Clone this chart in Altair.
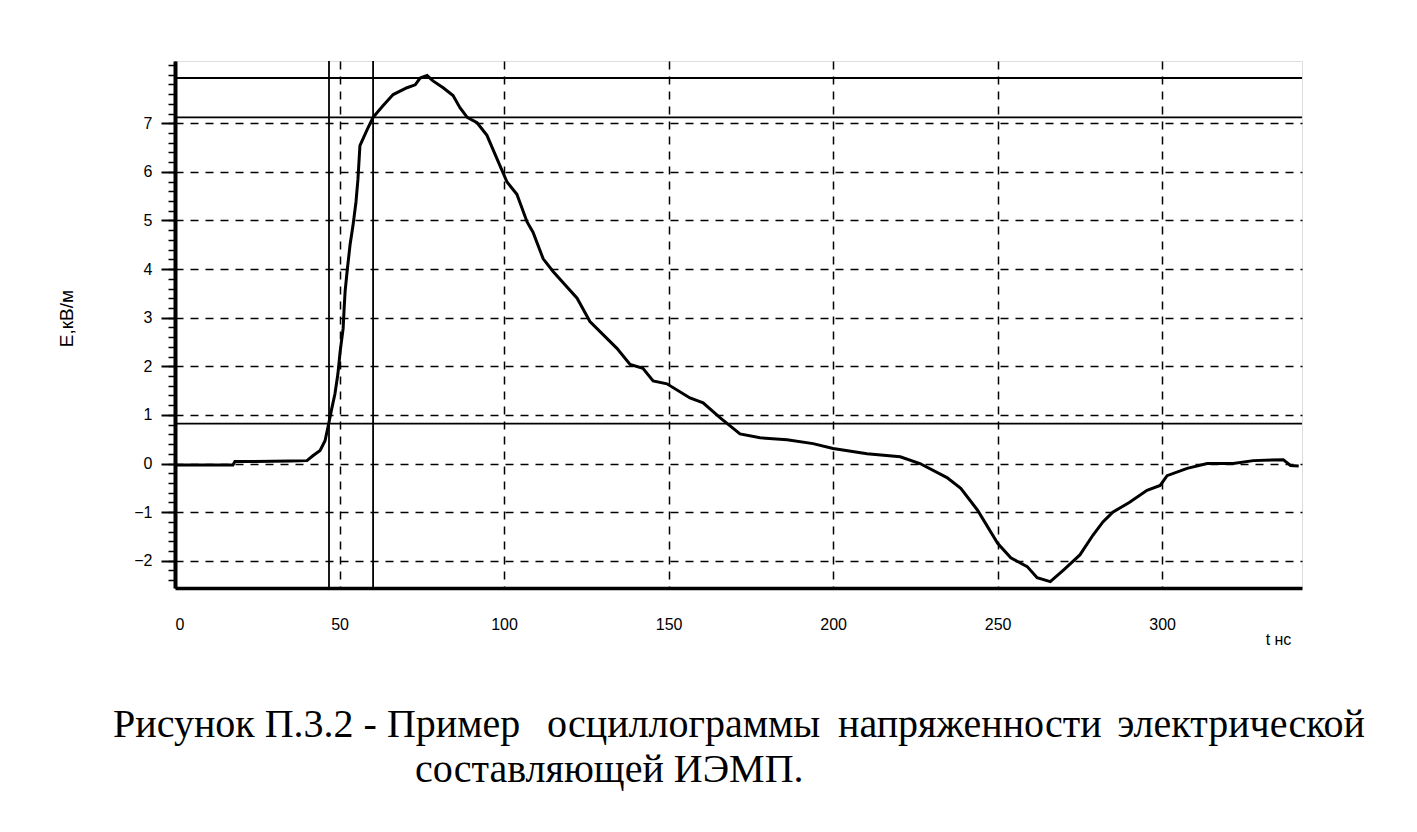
import altair as alt
import pandas as pd

# ---- data ----
t_ns = [0, 17.6, 18.2, 35, 40.1, 41.9, 44.1, 45.6, 46.8, 47.7,
        48.6, 49.5, 50.2, 51.1, 51.4, 51.7, 52.3, 53.2, 54.1, 55.0,
        55.6, 56.2, 58.4, 60.2, 63.2, 66.3, 70.5, 73.0, 74.5, 76.6,
        78.4, 81.5, 84.5, 86.6, 88.8, 91.8, 94.8, 97.9, 100.9, 103.9,
        107.0, 108.8, 111.9, 114.9, 122.2, 126.1, 134.3, 138.3, 142.2, 145.3,
        149.5, 156.5, 160.5, 165.7, 171.7, 177.8, 186.0, 193.9, 200.0, 210.3,
        220.4, 226.4, 234.6, 238.8, 243.9, 250.0, 254.0, 259.0, 262.0, 266.0,
        270.0, 275.0, 279.0, 282.0, 285.0, 290.0, 295.4, 299.4, 301.5, 307.6,
        313.7, 321.6, 327.7, 336.8, 339.0, 341.5]
e_kvm = [-0.03, -0.03, 0.04, 0.05, 0.06, 0.16, 0.27, 0.47, 0.85, 1.15,
         1.43, 1.84, 2.31, 2.78, 3.19, 3.54, 3.95, 4.5, 4.9, 5.38,
         5.85, 6.54, 6.87, 7.12, 7.36, 7.59, 7.73, 7.79, 7.93, 7.98,
         7.87, 7.73, 7.57, 7.32, 7.12, 7.01, 6.75, 6.26, 5.79, 5.54,
         4.97, 4.76, 4.21, 3.95, 3.4, 2.92, 2.37, 2.04, 1.96, 1.7,
         1.64, 1.35, 1.25, 0.94, 0.61, 0.53, 0.49, 0.41, 0.31, 0.2,
         0.14, 0.0, -0.29, -0.51, -0.96, -1.64, -1.94, -2.12, -2.35, -2.43,
         -2.19, -1.88, -1.47, -1.2, -1.0, -0.8, -0.55, -0.45, -0.25, -0.1,
         0.0, 0.0, 0.06, 0.08, -0.04, -0.05]

cursor_t = [46.8, 60.2]          # vertical cursor lines, ns
cursor_e = [7.93, 7.12, 0.82]    # horizontal cursor lines, kV/m

x_ticks = [0, 50, 100, 150, 200, 250, 300]
y_ticks = [-2, -1, 0, 1, 2, 3, 4, 5, 6, 7]
y_minor = [round(-2.4 + 0.2 * i, 1) for i in range(54)]

x_title = "t нс"
y_title = "E,кВ/м"
caption_line1 = ["Рисунок П.3.2 - Пример", "осциллограммы", "напряженности", "электрической"]
caption_line2 = "составляющей ИЭМП."

# ---- chart ----
W, H = 1127, 527
xs = alt.Scale(domain=[0, 342.5], nice=False, zero=False)
ys = alt.Scale(domain=[-2.56, 8.28], nice=False, zero=False)
sans = "Liberation Sans"
serif = "Liberation Serif"

curve_df = pd.DataFrame({"t": t_ns, "e": e_kvm})

x_axis = alt.Axis(
    orient="bottom", values=x_ticks, ticks=False, tickSize=0, labelPadding=28,
    labelFont=sans, labelFontSize=16, labelColor="black",
    domainColor="black", domainWidth=3.5,
    grid=True, gridColor="black", gridDash=[8, 7], gridWidth=1.5,
    title=x_title, titleFont=sans, titleFontSize=16, titleFontWeight="normal",
    titleX=1103, titleY=51, titleAlign="center", titleBaseline="middle")

curve = alt.Chart(curve_df).mark_line(color="black", strokeWidth=3).encode(
    x=alt.X("t:Q", scale=xs, axis=x_axis),
    y=alt.Y("e:Q", scale=ys, axis=alt.Axis(
        orient="left", values=y_ticks, tickSize=14, tickWidth=2, tickColor="black",
        labelPadding=9, labelFont=sans, labelFontSize=16, labelColor="black",
        domainColor="black", domainWidth=4,
        grid=True, gridColor="black", gridDash=[8, 7], gridWidth=1.5,
        title=y_title, titleFont=sans, titleFontSize=19, titleFontWeight="normal",
        titleAngle=-90, titleX=-109, titleY=257, titleAlign="center", titleBaseline="middle")),
)

vcur = alt.Chart(pd.DataFrame({"tc": cursor_t})).mark_rule(color="black", strokeWidth=1.8).encode(
    x=alt.X("tc:Q", scale=xs, axis=x_axis)
)

hcur = alt.Chart(pd.DataFrame({"ec": cursor_e})).mark_rule(color="black", strokeWidth=1.8).encode(
    y=alt.Y("ec:Q", scale=ys, axis=alt.Axis(
        orient="left", values=y_minor, tickSize=7, tickWidth=1.5, tickColor="black",
        labels=False, domain=False, grid=False, title=None))
)


def text_layer(txt, x, y, align, size=40):
    return alt.Chart(pd.DataFrame({"txt": [txt]})).mark_text(
        font=serif, fontSize=size, align=align, baseline="alphabetic", color="black"
    ).encode(x=alt.value(x), y=alt.value(y), text="txt:N")


caps = [
    text_layer(caption_line1[0], -62, 676, "left"),
    text_layer(caption_line1[1], 372, 676, "left"),
    text_layer(caption_line1[2], 663, 676, "left"),
    text_layer(caption_line1[3], 1190, 676, "right"),
    text_layer(caption_line2, 240, 721, "left"),
]

chart = alt.layer(curve, hcur, vcur, *caps).resolve_axis(y="independent").properties(
    width=W, height=H,
    autosize=alt.AutoSizeParams(type="none"),
    padding={"left": 167, "top": 53, "right": 100, "bottom": 230},
).configure_view(stroke="black", strokeWidth=2).configure(background="white")

chart.save("out.html", embed_options={"renderer": "svg", "actions": False})
